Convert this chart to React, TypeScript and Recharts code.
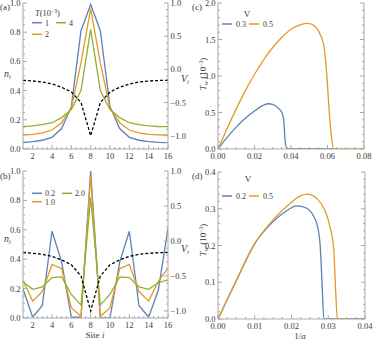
import React from "react";
import { LineChart, Line, XAxis, YAxis } from "recharts";

const BLUE = "#5e81b5";
const ORANGE = "#e19c24";
const GREEN = "#8fb032";
const FRAME = "#a8a8a8";
const INK = "#3a3a3a";
const FONT = "'Liberation Serif', 'DejaVu Serif', serif";
const TICK_FS = 8.5;

// (a) and (b): occupation n_i per site, potential V_i
const sites = [1, 2, 3, 4, 5, 6, 7, 8, 9, 10, 11, 12, 13, 14, 15, 16];
const nT1 = [0.043, 0.05, 0.06, 0.08, 0.14, 0.29, 0.81, 0.99, 0.81, 0.29, 0.14, 0.08, 0.06, 0.05, 0.045, 0.043];
const nT2 = [0.096, 0.1, 0.11, 0.13, 0.18, 0.28, 0.59, 0.96, 0.59, 0.28, 0.18, 0.13, 0.11, 0.1, 0.097, 0.096];
const nT4 = [0.153, 0.158, 0.167, 0.18, 0.215, 0.27, 0.4, 0.82, 0.4, 0.27, 0.215, 0.18, 0.167, 0.158, 0.154, 0.153];
const potential = [-0.165, -0.175, -0.19, -0.22, -0.27, -0.34, -0.5, -1.0, -0.5, -0.34, -0.27, -0.22, -0.19, -0.175, -0.168, -0.163];

const nV02 = [0.2, 0.005, 0.085, 0.59, 0.38, 0.005, 0.005, 1.0, 0.0, 0.0, 0.38, 0.59, 0.085, 0.005, 0.19, 0.61];
const nV10 = [0.255, 0.115, 0.18, 0.365, 0.335, 0.07, 0.01, 0.965, 0.01, 0.07, 0.335, 0.365, 0.18, 0.115, 0.25, 0.34];
const nV20 = [0.245, 0.195, 0.212, 0.275, 0.28, 0.16, 0.088, 0.82, 0.088, 0.16, 0.28, 0.275, 0.212, 0.195, 0.24, 0.26];

// (c): T_w vs 1/a
const c03x = [0, 0.005, 0.01, 0.015, 0.02, 0.025, 0.0275, 0.03, 0.033, 0.035, 0.036, 0.0367, 0.0375, 0.039, 0.05, 0.064];
const c03y = [0, 0.16, 0.3, 0.42, 0.52, 0.6, 0.62, 0.61, 0.56, 0.5, 0.4, 0.14, 0.02, 0, 0, 0];
const c05x = [0, 0.005, 0.01, 0.015, 0.02, 0.025, 0.03, 0.035, 0.04, 0.045, 0.049, 0.052, 0.055, 0.058, 0.0595, 0.061, 0.062, 0.0635, 0.07, 0.08];
const c05y = [0, 0.28, 0.55, 0.8, 1.02, 1.22, 1.39, 1.53, 1.64, 1.7, 1.72, 1.7, 1.62, 1.42, 1.05, 0.5, 0.2, 0, 0, 0];

// (d)
const d02x = [0, 0.005, 0.01, 0.015, 0.018, 0.0215, 0.024, 0.026, 0.027, 0.0278, 0.0283, 0.0288, 0.032, 0.04];
const d02y = [0, 0.105, 0.205, 0.265, 0.29, 0.308, 0.302, 0.28, 0.255, 0.2, 0.1, 0, 0, 0];
const d05x = [0, 0.005, 0.01, 0.015, 0.02, 0.022, 0.0243, 0.026, 0.028, 0.0295, 0.0305, 0.0315, 0.032, 0.0325, 0.035];
const d05y = [0, 0.105, 0.205, 0.27, 0.318, 0.333, 0.34, 0.335, 0.315, 0.285, 0.25, 0.19, 0.08, 0, 0];

const siteTicks = [2, 4, 6, 8, 10, 12, 14, 16];
const nTicks = [0, 0.2, 0.4, 0.6, 0.8, 1];
const vTicks = [-1, -0.5, 0, 0.5, 1];
const cXTicks = [0, 0.02, 0.04, 0.06, 0.08];
const cYTicks = [0, 0.5, 1, 1.5, 2];
const dXTicks = [0, 0.01, 0.02, 0.03, 0.04];
const dYTicks = [0, 0.1, 0.2, 0.3, 0.4];

const steps = (lo: number, hi: number, step: number) => {
  const out: number[] = [];
  const n = Math.round((hi - lo) / step);
  for (let i = 0; i <= n; i++) out.push(Math.round((lo + i * step) * 1e6) / 1e6);
  return out;
};

const rowsA = sites.map((s, i) => ({ site: s, t1: nT1[i], t2: nT2[i], t4: nT4[i], v: potential[i] }));
const rowsB = sites.map((s, i) => ({ site: s, a: nV02[i], b: nV10[i], c: nV20[i], v: potential[i] }));
const pts = (xs: number[], ys: number[]) => xs.map((x, i) => ({ x, y: ys[i] }));

const fmt1 = (v: number) => (v < 0 ? "\u2212" : "") + Math.abs(v).toFixed(1);
const fmt2 = (v: number) => v.toFixed(2);
const fmtInt = (v: number) => String(v);

type Side = "left" | "right" | "top" | "bottom";

// Mathematica-style frame: inward ticks, minor ones shorter, labels only on majors
const frameTick = (side: Side, majors: number[], fmt?: (v: number) => string) => (p: any) => {
  const { x, y, payload } = p;
  const v = payload.value;
  const major = majors.some((m) => Math.abs(m - v) < 1e-9);
  const len = major ? 4 : 2;
  let line;
  let label = null;
  if (side === "bottom") {
    line = <line x1={x} x2={x} y1={y} y2={y - len} stroke={FRAME} />;
    if (major && fmt) label = <text x={x} y={y + 9.5} textAnchor="middle">{fmt(v)}</text>;
  } else if (side === "top") {
    line = <line x1={x} x2={x} y1={y} y2={y + len} stroke={FRAME} />;
  } else if (side === "left") {
    line = <line x1={x} x2={x + len} y1={y} y2={y} stroke={FRAME} />;
    if (major && fmt) label = <text x={x - 2.5} y={y + 3} textAnchor="end">{fmt(v)}</text>;
  } else {
    line = <line x1={x} x2={x - len} y1={y} y2={y} stroke={FRAME} />;
    if (major && fmt) label = <text x={x + 2.5} y={y + 3} textAnchor="start">{fmt(v)}</text>;
  }
  return (
    <g fontFamily={FONT} fontSize={TICK_FS} fill={INK}>
      {line}
      {label}
    </g>
  );
};

const axisCommon = { tickSize: 0, tickMargin: 0, interval: 0 as const, stroke: FRAME, allowDataOverflow: true };

function SitePanel({ rows, keys, vDomain, top, height, mTop, xHeight }: any) {
  const colors = [BLUE, ORANGE, GREEN];
  return (
    <div style={{ position: "absolute", left: 0, top }}>
      <LineChart width={190} height={height} data={rows} margin={{ top: mTop, right: 0, bottom: 0, left: 0 }}>
        <XAxis xAxisId="b" dataKey="site" type="number" domain={[1, 16]} ticks={steps(1, 16, 0.5)} height={xHeight} {...axisCommon} tick={frameTick("bottom", siteTicks, fmtInt)} />
        <XAxis xAxisId="t" orientation="top" dataKey="site" type="number" domain={[1, 16]} ticks={steps(1, 16, 0.5)} height={0} {...axisCommon} tick={frameTick("top", siteTicks)} />
        <YAxis yAxisId="n" domain={[0, 1]} ticks={steps(0, 1, 0.05)} width={23} {...axisCommon} tick={frameTick("left", nTicks, fmt1)} />
        <YAxis yAxisId="v" orientation="right" domain={vDomain} ticks={steps(vDomain[0], 1, 0.1)} width={22} {...axisCommon} tick={frameTick("right", vTicks, fmt1)} />
        {keys.map((k: string, i: number) => (
          <Line key={k} xAxisId="b" yAxisId="n" dataKey={k} type="linear" stroke={colors[i]} strokeWidth={1.3} dot={false} isAnimationActive={false} />
        ))}
        <Line xAxisId="b" yAxisId="v" dataKey="v" type="linear" stroke="#000" strokeWidth={1.3} strokeDasharray="3 2" dot={false} isAnimationActive={false} />
      </LineChart>
    </div>
  );
}

function CurvePanel({ series, xDomain, xMinor, xTicks, yDomain, yMinor, yTicks, top, height, mTop, xHeight, rightW }: any) {
  return (
    <div style={{ position: "absolute", left: 190, top }}>
      <LineChart width={184} height={height} margin={{ top: mTop, right: 0, bottom: 0, left: 0 }}>
        <XAxis xAxisId="b" dataKey="x" type="number" domain={xDomain} ticks={steps(xDomain[0], xDomain[1], xMinor)} height={xHeight} {...axisCommon} tick={frameTick("bottom", xTicks, fmt2)} />
        <XAxis xAxisId="t" orientation="top" dataKey="x" type="number" domain={xDomain} ticks={steps(xDomain[0], xDomain[1], xMinor)} height={0} {...axisCommon} tick={frameTick("top", xTicks)} />
        <YAxis yAxisId="l" domain={yDomain} ticks={steps(yDomain[0], yDomain[1], yMinor)} width={28} {...axisCommon} tick={frameTick("left", yTicks, fmt1)} />
        <YAxis yAxisId="r" orientation="right" domain={yDomain} ticks={steps(yDomain[0], yDomain[1], yMinor)} width={rightW} {...axisCommon} tick={frameTick("right", yTicks)} />
        {series.map((s: any) => (
          <Line key={s.name} data={s.data} xAxisId="b" yAxisId="l" dataKey="y" type="monotone" stroke={s.color} strokeWidth={1.3} dot={false} isAnimationActive={false} />
        ))}
      </LineChart>
    </div>
  );
}

const legendLine = (x: number, y: number, c: string) => <line x1={x} x2={x + 10} y1={y} y2={y} stroke={c} strokeWidth={1.5} />;

function Overlay() {
  return (
    <svg width={374} height={344} style={{ position: "absolute", left: 0, top: 0, pointerEvents: "none" }} fontFamily={FONT} fill={INK}>
      {/* (a) */}
      <text x={0} y={10} fontSize={9}>(a)</text>
      <text x={4} y={77} fontSize={10} fontStyle="italic">n<tspan fontSize={6.5} dy={2}>i</tspan></text>
      <text x={181} y={82} fontSize={10} fontStyle="italic">V<tspan fontSize={6.5} dy={2}>i</tspan></text>
      <text x={35} y={15.5} fontSize={8.5}><tspan fontStyle="italic">T</tspan>(10<tspan fontSize={5.5} dy={-3}>{"\u22123"}</tspan><tspan dy={3}>)</tspan></text>
      {legendLine(32, 22.7, BLUE)}
      <text x={45} y={25.7} fontSize={8}>1</text>
      {legendLine(56, 22.7, GREEN)}
      <text x={69} y={25.7} fontSize={8}>4</text>
      {legendLine(32, 34.3, ORANGE)}
      <text x={45} y={37.3} fontSize={8}>2</text>

      {/* (b) */}
      <text x={0} y={179} fontSize={9}>(b)</text>
      <text x={4} y={242} fontSize={10} fontStyle="italic">n<tspan fontSize={6.5} dy={2}>i</tspan></text>
      <text x={181} y={252} fontSize={10} fontStyle="italic">V<tspan fontSize={6.5} dy={2}>i</tspan></text>
      {legendLine(32, 193.3, BLUE)}
      <text x={45} y={196} fontSize={8}>0.2</text>
      {legendLine(62, 193.3, GREEN)}
      <text x={75} y={196} fontSize={8}>2.0</text>
      {legendLine(32, 201.7, ORANGE)}
      <text x={45} y={204.5} fontSize={8}>1.0</text>
      <text x={95} y={338} fontSize={9} textAnchor="middle">Site <tspan fontStyle="italic">i</tspan></text>

      {/* (c) */}
      <text x={192} y={10} fontSize={9}>(c)</text>
      <text x={247} y={17} fontSize={9} textAnchor="middle">V</text>
      {legendLine(222, 24, BLUE)}
      <text x={236} y={27} fontSize={8}>0.3</text>
      {legendLine(249, 24, ORANGE)}
      <text x={263} y={27} fontSize={8}>0.5</text>
      <text transform="translate(206,74) rotate(-90)" fontSize={9} textAnchor="middle"><tspan fontStyle="italic">T</tspan><tspan fontSize={6} dy={2}>w</tspan><tspan dy={-2}> (10</tspan><tspan fontSize={5.5} dy={-3}>{"\u22123"}</tspan><tspan dy={3}>)</tspan></text>

      {/* (d) */}
      <text x={192} y={179} fontSize={9}>(d)</text>
      <text x={248} y={182} fontSize={9} textAnchor="middle">V</text>
      {legendLine(222, 196, BLUE)}
      <text x={236} y={199} fontSize={8}>0.2</text>
      {legendLine(249, 196, ORANGE)}
      <text x={263} y={199} fontSize={8}>0.5</text>
      <text transform="translate(206,240) rotate(-90)" fontSize={9} textAnchor="middle"><tspan fontStyle="italic">T</tspan><tspan fontSize={6} dy={2}>w</tspan><tspan dy={-2}> (10</tspan><tspan fontSize={5.5} dy={-3}>{"\u22123"}</tspan><tspan dy={3}>)</tspan></text>
      <text x={300} y={339} fontSize={9} textAnchor="middle">1/<tspan fontStyle="italic">a</tspan></text>
    </svg>
  );
}

export default function App() {
  return (
    <div style={{ position: "absolute", left: 0, top: 0, width: 374, height: 344, background: "#fff", overflow: "hidden" }}>
      <SitePanel rows={rowsA} keys={["t1", "t2", "t4"]} vDomain={[-1.2, 1]} top={0} height={170} mTop={3} xHeight={21} />
      <SitePanel rows={rowsB} keys={["a", "b", "c"]} vDomain={[-1.1, 1]} top={165} height={179} mTop={6} xHeight={26} />
      <CurvePanel
        series={[
          { name: "0.3", color: BLUE, data: pts(c03x, c03y) },
          { name: "0.5", color: ORANGE, data: pts(c05x, c05y) },
        ]}
        xDomain={[0, 0.08]} xMinor={0.005} xTicks={cXTicks}
        yDomain={[0, 2]} yMinor={0.1} yTicks={cYTicks}
        top={0} height={170} mTop={3} xHeight={21} rightW={10}
      />
      <CurvePanel
        series={[
          { name: "0.2", color: BLUE, data: pts(d02x, d02y) },
          { name: "0.5", color: ORANGE, data: pts(d05x, d05y) },
        ]}
        xDomain={[0, 0.04]} xMinor={0.0025} xTicks={dXTicks}
        yDomain={[0, 0.4]} yMinor={0.02} yTicks={dYTicks}
        top={166} height={178} mTop={6} xHeight={25} rightW={9}
      />
      <Overlay />
    </div>
  );
}
